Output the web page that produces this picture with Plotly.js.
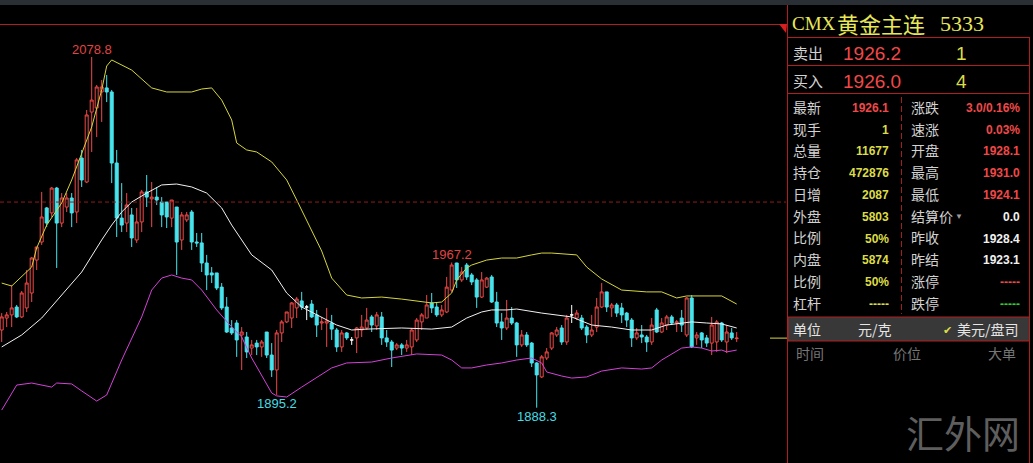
<!DOCTYPE html>
<html><head><meta charset="utf-8">
<script src="https://cdn.plot.ly/plotly-3.0.1.min.js"></script>
<style>html,body{margin:0;padding:0;background:#000;overflow:hidden}#chart{width:1033px;height:463px}</style>
</head><body><div id="chart"></div>
<script>
// ---------------- data ----------------
const openP = [1930.5,1937.0,1938.7,1943.0,1937.6,1942.5,1950.6,1968.5,1978.3,1996.8,
1994.1,2007.6,1988.6,1997.3,2002.2,1994.6,2023.9,2010.9,2048.9,2051.1,
2059.8,2062.0,2059.8,2021.2,1991.3,1988.6,1993.0,1979.4,1989.2,2005.5,
2001.7,2002.7,2000.0,2000.0,1991.3,1997.3,1979.4,1990.3,1994.6,1978.3,
1977.8,1966.9,1961.5,1961.5,1953.8,1943.0,1931.6,1934.3,1927.8,1926.7,
1920.7,1923.4,1921.3,1929.4,1916.9,1908.8,1928.9,1934.9,1937.0,1942.5,
1946.3,1943.0,1944.6,1938.7,1934.3,1934.3,1934.3,1930.5,1921.3,1928.9,
1925.1,1926.2,1930.5,1931.6,1937.6,1932.7,1937.6,1926.2,1924.0,1920.7,
1922.4,1920.7,1921.3,1925.1,1934.9,1937.0,1945.2,1943.0,1938.7,1940.3,
1952.2,1966.9,1957.7,1965.8,1960.4,1957.7,1948.4,1953.8,1959.3,1945.7,
1934.9,1931.6,1937.0,1934.3,1922.4,1927.8,1923.4,1912.6,1905.0,1915.3,
1920.7,1927.8,1931.6,1924.0,1938.7,1937.0,1937.0,1932.1,1927.8,1932.1,
1943.0,1951.2,1942.5,1944.1,1942.5,1939.7,1935.9,1926.2,1927.8,1926.7,
1924.0,1941.4,1929.4,1933.2,1937.6,1934.3,1937.0,1927.8,1947.9,1926.2,
1928.9,1926.2,1923.4,1924.0,1934.3,1924.0,1928.9,1925.8];
const highP = [1939.7,1940.3,1954.9,1944.1,1951.7,1963.1,1970.2,1975.6,2005.5,1997.3,
2008.2,2008.2,2004.9,2004.9,2004.9,2023.9,2028.3,2050.0,2078.8,2063.6,
2066.3,2069.0,2060.9,2028.3,2010.3,2004.9,1996.8,1996.8,2006.6,2014.7,
2010.9,2008.2,2002.7,2000.0,2001.1,1997.3,1994.6,1994.6,1995.7,1983.2,
1983.2,1971.3,1964.7,1961.5,1956.0,1948.4,1935.9,1935.9,1932.1,1929.4,
1925.1,1925.1,1925.1,1929.4,1923.4,1930.5,1935.9,1940.3,1945.7,1948.4,
1951.2,1944.1,1946.8,1941.4,1937.6,1942.5,1938.7,1931.6,1930.5,1929.4,
1926.7,1932.1,1938.7,1942.5,1938.7,1940.3,1940.3,1930.5,1925.1,1923.4,
1923.4,1925.1,1931.6,1937.0,1939.7,1949.5,1950.6,1945.7,1944.1,1959.3,
1967.2,1967.0,1964.7,1966.9,1961.5,1958.7,1962.0,1959.3,1960.4,1951.2,
1939.7,1946.8,1943.0,1934.9,1930.5,1929.4,1924.0,1913.1,1916.9,1920.7,
1929.4,1932.1,1933.2,1938.7,1944.1,1941.4,1938.7,1933.2,1938.7,1947.9,
1956.0,1951.2,1945.2,1945.2,1945.2,1940.3,1937.0,1931.6,1933.2,1927.8,
1937.0,1942.5,1937.0,1938.7,1938.7,1935.9,1941.4,1948.4,1949.5,1929.4,
1929.4,1927.8,1937.6,1935.9,1934.9,1933.2,1931.6,1929.4];
const lowP = [1924.0,1932.1,1932.1,1937.0,1937.0,1940.3,1945.7,1963.1,1976.7,1986.4,
1991.9,1964.2,1986.4,1994.6,1986.4,1988.6,2008.2,2010.3,2027.2,2035.3,
2043.5,2054.3,2010.3,1981.0,1983.7,1983.7,1975.6,1977.8,1983.7,1997.3,
1986.4,1998.4,1986.4,1985.9,1986.4,1960.4,1974.0,1989.2,1974.0,1975.6,
1962.0,1952.2,1956.0,1952.2,1941.4,1928.9,1927.8,1915.9,1908.8,1915.3,
1916.9,1916.9,1915.9,1915.3,1905.0,1895.2,1924.0,1934.3,1931.6,1937.0,
1941.4,1935.9,1937.0,1926.7,1930.5,1921.3,1925.1,1918.6,1918.6,1925.1,
1922.4,1918.0,1926.7,1930.5,1929.4,1930.5,1922.4,1921.3,1910.4,1919.6,
1916.9,1918.6,1916.9,1924.0,1930.5,1937.0,1939.7,1937.6,1937.6,1939.7,
1951.2,1953.3,1956.6,1957.7,1954.9,1942.5,1947.9,1953.3,1945.2,1932.1,
1925.1,1930.5,1933.2,1915.9,1921.3,1921.3,1910.4,1888.3,1904.4,1914.2,
1919.6,1926.7,1922.4,1922.4,1934.3,1935.9,1930.5,1923.4,1926.7,1929.4,
1942.5,1940.3,1937.6,1937.6,1934.3,1932.1,1921.3,1925.1,1923.4,1918.6,
1922.4,1928.9,1928.9,1930.5,1933.2,1929.4,1929.4,1926.7,1920.7,1922.4,
1920.7,1921.3,1916.9,1918.6,1924.0,1918.0,1925.1,1924.0];
const closeP = [1937.6,1938.7,1942.5,1937.6,1950.6,1956.0,1969.6,1975.6,1991.9,1988.6,
2007.6,1988.6,2002.2,2002.2,1994.1,2022.9,2012.0,2047.3,2055.4,2062.5,
2062.5,2059.8,2021.2,1991.3,1987.5,1998.4,1980.5,1989.2,2005.5,2002.7,
2002.7,2001.1,1993.0,1991.9,2001.1,1978.3,1993.0,1993.0,1978.3,1977.8,
1966.9,1960.4,1960.4,1953.3,1942.5,1929.4,1928.9,1925.1,1929.4,1918.6,
1922.4,1921.3,1924.0,1916.9,1908.8,1928.9,1934.9,1940.3,1945.2,1947.3,
1943.0,1943.0,1937.6,1933.2,1934.9,1935.4,1931.0,1921.3,1928.9,1926.2,
1925.1,1931.6,1932.1,1935.9,1933.2,1938.7,1926.2,1924.0,1919.6,1922.4,
1920.7,1922.4,1930.5,1935.9,1938.7,1944.1,1942.5,1938.7,1941.4,1953.8,
1965.8,1957.7,1962.0,1959.3,1956.6,1948.4,1957.7,1958.7,1945.7,1934.3,
1931.6,1937.0,1934.3,1922.4,1927.8,1922.4,1912.6,1906.1,1915.9,1918.6,
1928.9,1930.5,1924.0,1937.0,1938.7,1939.7,1931.6,1927.8,1930.5,1943.0,
1951.2,1943.0,1944.1,1939.7,1938.7,1935.9,1926.2,1928.9,1926.7,1924.0,
1933.2,1929.4,1934.3,1937.6,1934.3,1934.9,1933.2,1947.9,1921.3,1927.8,
1925.1,1923.4,1933.2,1934.9,1925.1,1929.4,1926.2,1926.1];

// Bollinger bands (index of bar, value)
const upperIdx  = [0,2,6,7,9,12,14,16,18,20,21,22,26,30,33,38,40,42,44,46,47,49,51,54,57,59,61,64,66,69,72,76,80,83,86,88,90,91,93,94,97,100,103,106,108,110,113,115,117,120,124,129,132,135,137,144,147];
const upperBand = [1956.0,1954.4,1964.7,1975.1,1987.5,1999.5,2012.0,2026.6,2040.8,2060.9,2073.9,2077.2,2071.7,2062.0,2059.8,2059.8,2061.4,2062.0,2055.4,2044.6,2032.1,2028.3,2027.2,2021.8,2012.0,2001.1,1990.3,1973.4,1958.7,1949.5,1947.9,1948.4,1947.3,1946.3,1945.2,1945.7,1950.6,1957.7,1964.2,1965.8,1968.5,1969.6,1969.6,1971.3,1972.3,1972.3,1971.8,1971.3,1964.7,1958.2,1952.2,1951.2,1951.2,1947.9,1949.0,1949.0,1944.6];
const midIdx  = [0,4,8,12,16,20,22,24,26,29,32,35,38,41,44,46,48,50,54,57,60,64,67,70,73,80,86,90,93,96,98,101,103,108,112,114,118,122,126,130,133,136,138,141,144,147];
const midBand = [1921.3,1927.8,1937.0,1949.5,1962.0,1979.4,1987.5,1994.6,2000.0,2004.9,2009.3,2009.8,2008.2,2004.9,1996.8,1987.5,1979.4,1971.3,1963.1,1950.6,1943.0,1937.6,1933.2,1930.5,1931.0,1931.6,1931.0,1932.1,1937.0,1940.3,1941.4,1941.4,1941.9,1939.7,1938.1,1937.6,1933.2,1932.1,1930.5,1930.5,1933.2,1934.3,1934.9,1934.3,1933.8,1931.6];
const lowerIdx  = [0,3,6,10,11,14,16,19,21,24,28,30,32,34,36,38,40,43,46,48,50,54,55,57,60,64,66,69,74,78,83,88,90,92,94,97,100,103,106,108,109,112,114,117,120,124,128,130,132,136,138,140,142,144,145,147];
const lowerBand = [1887.0,1900.6,1901.7,1899.5,1901.7,1901.2,1897.4,1891.9,1895.2,1914.2,1937.6,1952.2,1958.7,1960.4,1958.7,1957.7,1952.2,1941.4,1932.1,1926.7,1915.3,1896.3,1894.7,1894.1,1899.5,1906.6,1909.9,1912.6,1913.1,1915.3,1917.5,1916.9,1914.2,1909.9,1909.9,1911.5,1912.6,1914.2,1915.3,1912.6,1907.7,1905.5,1904.4,1905.0,1908.2,1909.9,1909.3,1909.9,1914.2,1920.7,1921.3,1920.7,1919.1,1919.6,1918.6,1919.6];

const highMarkIdx = [18, 90];
const lowMarkIdx  = [55, 107];
const refPrice  = 2000.0;
const lastPrice = 1926.1;

// quote panel text
const quoteName = '黄金主连';
const quoteExch = 'CMX';
const quoteCode = '5333';
const askRow = ['卖出', '1926.2', '1'];
const bidRow = ['买入', '1926.0', '4'];
const leftLabels  = ['最新','现手','总量','持仓','日增','外盘','比例','内盘','比例','杠杆'];
const leftValues  = ['1926.1','1','11677','472876','2087','5803','50%','5874','50%','-----'];
const rightLabels = ['涨跌','速涨','开盘','最高','最低','结算价','昨收','昨结','涨停','跌停'];
const rightValues = ['3.0/0.16%','0.03%','1928.1','1931.0','1924.1','0.0','1928.4','1923.1','-----','-----'];
const unitTexts   = ['单位','元/克','美元/盘司'];
const tradeHeads  = ['时间','价位','大单'];
const watermark   = '汇外网';

// ---------------- styles / layout ----------------
const W = 1033, H = 463;
const RED = '#f04848', CYAN = '#48e4ee', YEL = '#dcdc46', WHITE_T = '#e6e6e6', LAB = '#d2d2d2';
const BORDER = '#b01e1e';
const NUM = 'Liberation Sans, Arial, sans-serif';
const CJK = 'Noto Sans CJK SC, sans-serif';
const SERIF = 'Liberation Serif, serif';
const leftValColors  = [RED, YEL, YEL, YEL, YEL, YEL, YEL, YEL, YEL, YEL];
const rightValColors = [RED, RED, RED, RED, RED, '#f0f0f0', '#f0f0f0', '#f0f0f0', RED, '#30d030'];
const rowY = leftLabels.map((_, k) => 106.7 + 21.8 * k);

const px = v => v / W;
const py = v => 1 - v / H;

const idxAll = openP.map((_, i) => i);
const normal = idxAll.filter(i => openP[i] !== closeP[i]);
const doji = idxAll.filter(i => openP[i] === closeP[i]);
const pick = (arr, ids) => ids.map(i => arr[i]);

const traces = [
  {type:'scatter', mode:'lines', x: upperIdx, y: upperBand, line:{color:'#d6d63c', width:1}, hoverinfo:'skip'},
  {type:'scatter', mode:'lines', x: midIdx, y: midBand, line:{color:'#f2f2f2', width:1}, hoverinfo:'skip'},
  {type:'scatter', mode:'lines', x: lowerIdx, y: lowerBand, line:{color:'#d442d8', width:1}, hoverinfo:'skip'},
  {type:'candlestick', x: normal, open: pick(openP, normal), high: pick(highP, normal), low: pick(lowP, normal), close: pick(closeP, normal),
   increasing:{line:{color:RED, width:1}, fillcolor:'#000000'},
   decreasing:{line:{color:CYAN, width:1}, fillcolor:CYAN},
   whiskerwidth:0, hoverinfo:'skip'},
  {type:'candlestick', x: doji, open: pick(openP, doji), high: pick(highP, doji), low: pick(lowP, doji), close: pick(closeP, doji),
   increasing:{line:{color:'#ffffff', width:1}, fillcolor:'#ffffff'},
   decreasing:{line:{color:'#ffffff', width:1}, fillcolor:'#ffffff'},
   whiskerwidth:0, hoverinfo:'skip'}
];

function T(text, x, y, xanchor, size, color, family, extra) {
  return Object.assign({xref:'paper', yref:'paper', x: px(x), y: py(y), xanchor: xanchor, yanchor:'middle',
    showarrow:false, text: text, font:{size: size, color: color, family: family}}, extra || {});
}

const ann = [];
highMarkIdx.forEach(i => ann.push({xref:'x', yref:'y', x:i, y:highP[i], yanchor:'bottom', yshift:-2, showarrow:false,
  text: highP[i].toFixed(1), font:{size:13, color:'#e04444', family:NUM}}));
lowMarkIdx.forEach(i => ann.push({xref:'x', yref:'y', x:i, y:lowP[i], yanchor:'top', yshift:1, showarrow:false,
  text: lowP[i].toFixed(1), font:{size:13, color:'#44dce6', family:NUM}}));

// title
ann.push(T(quoteExch, 790, 24, 'left', 19, '#e8e85a', SERIF));
ann.push(T(quoteName, 835, 23, 'left', 22, '#e8e85a', CJK));
ann.push(T(quoteCode, 938, 24, 'left', 22, '#e8e85a', SERIF));
// ask / bid
[[askRow, 52], [bidRow, 80]].forEach(([r, y]) => {
  ann.push(T(r[0], 791, y, 'left', 15, LAB, CJK));
  ann.push(T(r[1], 841, y + 1, 'left', 19, RED, NUM));
  ann.push(T(r[2], 961, y + 1, 'center', 19, YEL, NUM));
});
// quote rows
leftLabels.forEach((t, k) => {
  ann.push(T(t, 791, rowY[k], 'left', 14, LAB, CJK));
  ann.push(T('<b>' + leftValues[k] + '</b>', 891, rowY[k] + 1, 'right', 12, leftValColors[k], NUM));
  ann.push(T(rightLabels[k], 909, rowY[k], 'left', 14, LAB, CJK));
  ann.push(T('<b>' + rightValues[k] + '</b>', 1022, rowY[k] + 1, 'right', 12, rightValColors[k], NUM));
});
ann.push(T('▼', 959, rowY[5] + 1, 'center', 8, '#9a9a9a', NUM));
// unit row
ann.push(T(unitTexts[0], 791, 329, 'left', 14, WHITE_T, CJK));
ann.push(T(unitTexts[1], 856, 329, 'left', 14, WHITE_T, CJK));
ann.push(T('✔', 947, 330, 'center', 11, YEL, 'DejaVu Sans'));
ann.push(T(unitTexts[2], 955, 329, 'left', 14, WHITE_T, CJK));
// trade header
ann.push(T(tradeHeads[0], 794, 353, 'left', 14, '#767676', CJK));
ann.push(T(tradeHeads[1], 891, 353, 'left', 14, '#767676', CJK));
ann.push(T(tradeHeads[2], 986, 353, 'left', 14, '#767676', CJK));
// watermark
ann.push(T(watermark, 963, 431, 'center', 38, '#5e5e5e', CJK));

const L = (x0, y0, x1, y1, color, dash) => ({type:'line', xref:'paper', yref:'paper', x0:px(x0), y0:py(y0), x1:px(x1), y1:py(y1),
  line:{color: color, width:1, dash: dash || 'solid'}});

const shapes = [
  {type:'rect', xref:'paper', yref:'paper', x0:0, x1:1, y0:py(0), y1:py(5), fillcolor:'#2a2e35', line:{width:0}},
  L(0, 24.5, 786, 24.5, BORDER),
  {type:'path', xref:'paper', yref:'paper', path:`M${px(779)},${py(24)} L${px(787)},${py(24)} L${px(786)},${py(33)} Z`, fillcolor:'#d42020', line:{width:0}},
  L(787.5, 5, 787.5, 463, BORDER),
  L(1029.5, 37.5, 1029.5, 463, BORDER),
  L(787, 37.5, 1030, 37.5, BORDER),
  L(787, 65.5, 1030, 65.5, BORDER),
  L(787, 93.5, 1030, 93.5, BORDER),
  L(901.5, 97, 901.5, 314, '#a02020', '6px,3px'),
  {type:'rect', xref:'paper', yref:'paper', x0:px(788), x1:px(1029.5), y0:py(317), y1:py(341), fillcolor:'#383838', line:{color:BORDER, width:1}},
  {type:'line', xref:'paper', yref:'y', x0:px(770), x1:px(787), y0:lastPrice, y1:lastPrice, line:{color:'#d8d840', width:1}},
  {type:'line', xref:'paper', yref:'y', x0:0, x1:px(786), y0:refPrice, y1:refPrice, line:{color:'#8e1c1c', width:1, dash:'4px,3px'}}
];

const layout = {
  width: W, height: H,
  margin:{l:0, r:0, t:0, b:0, pad:0},
  paper_bgcolor:'#000000', plot_bgcolor:'#000000',
  showlegend:false,
  boxgap:0.4, boxgroupgap:0,
  xaxis:{domain:[0, 786 / W], range:[-0.34, 156.86], visible:false, rangeslider:{visible:false}, fixedrange:true},
  yaxis:{domain:[0, 1 - 24 / H], range:[1858.26, 2096.72], visible:false, fixedrange:true},
  annotations: ann,
  shapes: shapes
};

Plotly.newPlot('chart', traces, layout, {staticPlot:true, displayModeBar:false});
</script>
</body></html>
